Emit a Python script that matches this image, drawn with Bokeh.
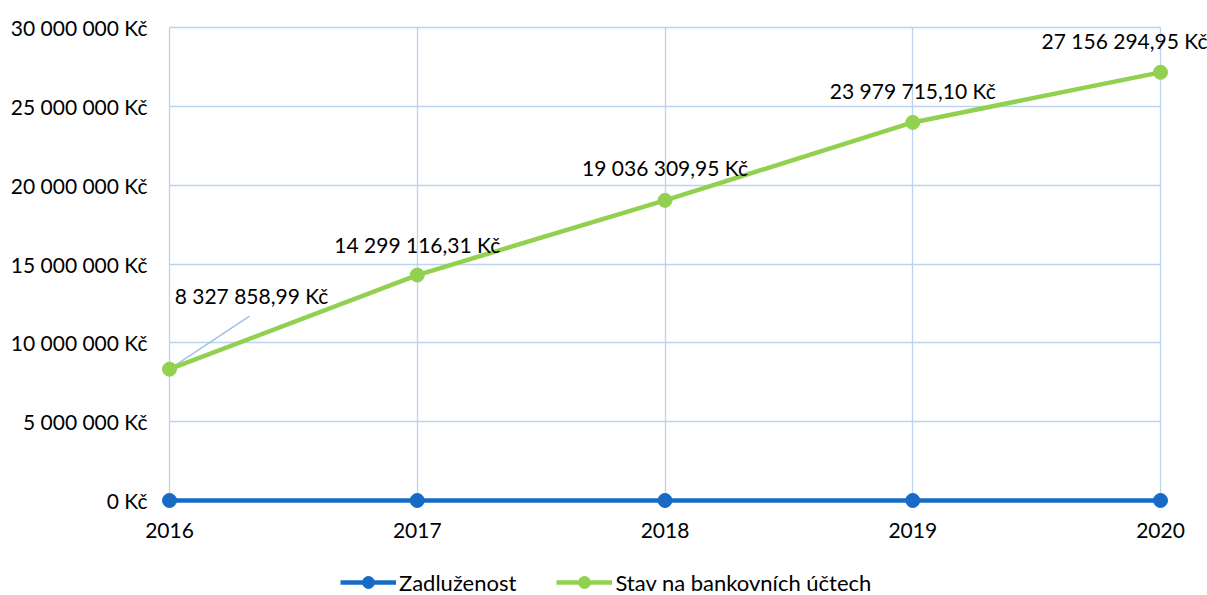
from bokeh.plotting import figure
from bokeh.models import (ColumnDataSource, Range1d, FixedTicker, Legend, LegendItem)
from bokeh.embed import file_html
from bokeh.resources import INLINE
from bokeh.core.properties import value

# ---- data ----
years = [2016, 2017, 2018, 2019, 2020]
zadluzenost = [0, 0, 0, 0, 0]
stav_uctu = [8327858.99, 14299116.31, 19036309.95, 23979715.10, 27156294.95]
y_ticks = [0, 5000000, 10000000, 15000000, 20000000, 25000000, 30000000]
y_tick_labels = ["0 Kč", "5 000 000 Kč", "10 000 000 Kč", "15 000 000 Kč",
                 "20 000 000 Kč", "25 000 000 Kč", "30 000 000 Kč"]
series_names = ["Zadluženost", "Stav na bankovních účtech"]


def fmt(v):
    s = f"{v:,.2f}".replace(",", " ").replace(".", ",")
    return s + " Kč"


labels = [fmt(v) for v in stav_uctu]

# ---- style ----
FONT = "Lato"
FS = "21px"
BLUE = "#176bc7"
GREEN = "#92d050"
GRID = "#bcd3ef"

W, H = 1207, 595
x_first_px, x_last_px = 169, 1160   # where first / last year sit
y_top_px, y_zero_px = 27, 500       # where 30M / 0 sit

x_per_px = (years[-1] - years[0]) / (x_last_px - x_first_px)
y_per_px = y_ticks[-1] / (y_zero_px - y_top_px)

x_range = Range1d(years[0] - x_first_px * x_per_px,
                  years[0] + (W - x_first_px) * x_per_px)
y_range = Range1d(-(H - y_zero_px) * y_per_px,
                  y_ticks[-1] + y_top_px * y_per_px)

p = figure(width=W, height=H, x_range=x_range, y_range=y_range,
           output_backend="svg", toolbar_location=None,
           min_border_left=0, min_border_right=0,
           min_border_top=0, min_border_bottom=0)
p.outline_line_color = None
p.background_fill_color = "white"
p.border_fill_color = "white"

# axes (drawn inside the frame at fixed data positions)
for ax in (p.xaxis[0], p.yaxis[0]):
    ax.axis_line_color = None
    ax.major_tick_line_color = None
    ax.minor_tick_line_color = None
    ax.major_tick_out = 0
    ax.major_tick_in = 0
    ax.major_label_text_font = FONT
    ax.major_label_text_font_size = FS
    ax.major_label_text_color = "#000000"

p.xaxis.fixed_location = y_ticks[0]
p.xaxis.ticker = FixedTicker(ticks=years)
p.xaxis.major_label_overrides = {y: str(y) for y in years}
p.xaxis.major_label_standoff = 22
p.yaxis.fixed_location = years[0]
p.yaxis.ticker = FixedTicker(ticks=y_ticks)
p.yaxis.major_label_overrides = {t: l for t, l in zip(y_ticks, y_tick_labels)}
p.yaxis.major_label_standoff = 22

# grid
p.xgrid.ticker = FixedTicker(ticks=years)
p.ygrid.ticker = FixedTicker(ticks=y_ticks)
p.xgrid.grid_line_color = GRID
p.ygrid.grid_line_color = GRID
p.xgrid.grid_line_width = 1.3
p.ygrid.grid_line_width = 1.3
p.xgrid.cross_bounds = (y_ticks[0], y_ticks[-1])
p.ygrid.cross_bounds = (years[0], years[-1])

src = ColumnDataSource(dict(x=years, z=zadluzenost, s=stav_uctu, lab=labels,
                            dx=[82, 0, 0, 0, -36], dy=[-74, -31, -33, -32, -32]))

# leader line for first label
p.segment(x0=[years[0]], y0=[stav_uctu[0]],
          x1=[years[0] + 80 * x_per_px], y1=[stav_uctu[0] + 53 * y_per_px],
          line_color="#9dc3e6", line_width=1.5)

l1 = p.line("x", "z", source=src, line_color=BLUE, line_width=4.5)
c1 = p.scatter("x", "z", source=src, size=14, fill_color=BLUE, line_color=BLUE)
l2 = p.line("x", "s", source=src, line_color=GREEN, line_width=4.5)
c2 = p.scatter("x", "s", source=src, size=14, fill_color=GREEN, line_color=GREEN)

p.text("x", "s", text="lab", source=src, x_offset="dx", y_offset="dy",
       text_align="center", text_baseline="middle",
       text_font=value(FONT), text_font_size=FS, text_color="#000000")

legend = Legend(items=[LegendItem(label=series_names[0], renderers=[l1, c1]),
                       LegendItem(label=series_names[1], renderers=[l2, c2])],
                orientation="horizontal", location=(340, -2),
                glyph_width=56, glyph_height=30, label_height=22,
                label_standoff=3, spacing=40, padding=0, margin=0,
                border_line_color=None, background_fill_alpha=0,
                label_text_font=FONT, label_text_font_size="22px",
                label_text_color="#000000")
p.add_layout(legend)

open("out.html", "w").write(file_html(p, INLINE))
